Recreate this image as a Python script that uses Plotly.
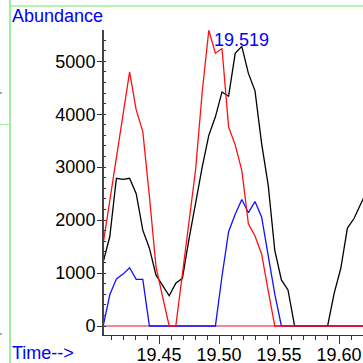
import plotly.graph_objects as go

# ---- data ----
times = [19.4035, 19.4090, 19.4145, 19.4200, 19.4255, 19.4310, 19.4365, 19.4420,
         19.4475, 19.4530, 19.4585, 19.4640, 19.4695, 19.4750, 19.4805, 19.4860,
         19.4915, 19.4970, 19.5025, 19.5080, 19.5135, 19.5190, 19.5245, 19.5300,
         19.5355, 19.5410, 19.5465, 19.5520, 19.5575, 19.5630, 19.5685, 19.5740,
         19.5795, 19.5850, 19.5905, 19.5960, 19.6015, 19.6070, 19.6125, 19.6180,
         19.6235]

black_vals = [1210, 1690, 2790, 2770, 2790, 2500, 1810, 1470, 960, 770, 570, 810,
              900, 1640, 2320, 3000, 3600, 3950, 4420, 4340, 5150, 5280, 4770, 4440,
              3450, 2660, 1430, 870, 680, 0, 0, 0, 0, 0, 0, 620, 1090, 1850, 2030,
              2300, 2560]

red_vals = [1560, 2380, 3190, 4000, 4800, 4080, 3670, 2450, 1120, 550, 0, 0,
            1000, 2030, 2950, 4420, 5585, 5150, 5240, 3760, 3420, 2940, 1930, 1700,
            1360, 670, 0, 0, 0, 0, 0, 0, 0, 0, 0, 0, 0, 0, 0, 0, 0]

blue_vals = [0, 590, 890, 980, 1100, 880, 880, 0, 0, 0, 0, 0, 0, 0, 0, 0, 0, 0,
             940, 1780, 2110, 2390, 2140, 2350, 2060, 1340, 600, 0, 0, 0, 0, 0, 0,
             0, 0, 0, 0, 0, 0, 0, 0]

other_vals = [0, 0, 0, 0, 0, 0, 0, 0, 0, 0, 0, 0, 0, 0, 0, 0, 0, 0, 0, 0, 0,
              0, 0, 0, 0, 0, 0, 0, 0, 0, 0, 0, 0, 0, 0, 0, 0, 0, 0, 0, 0]

peak_time = 19.519
peak_abund = 5280
peak_label = "19.519"

x_ticks = [19.45, 19.50, 19.55, 19.60]
x_tick_text = ["19.45", "19.50", "19.55", "19.60"]
y_ticks = [0, 1000, 2000, 3000, 4000, 5000]
y_tick_text = ["0", "1000", "2000", "3000", "4000", "5000"]

FONT = "Arial"
W, H = 363, 363
ML, MR, MT, MB = 104, 0, 30, 28
PW, PH = W - ML - MR, H - MT - MB


def px2paper_x(px):
    return (px - ML) / PW


def px2paper_y(py):
    return (H - MB - py) / PH


fig = go.Figure()
fig.add_trace(go.Scatter(x=times, y=other_vals, mode="lines",
                         line=dict(color="#ee5f7c", width=1.4), hoverinfo="skip"))
fig.add_trace(go.Scatter(x=times, y=black_vals, mode="lines",
                         line=dict(color="black", width=1.3)))
fig.add_trace(go.Scatter(x=times, y=blue_vals, mode="lines",
                         line=dict(color="#1010ff", width=1.3)))
fig.add_trace(go.Scatter(x=times, y=red_vals, mode="lines",
                         line=dict(color="#ff1010", width=1.3)))

fig.add_annotation(x=peak_time, y=peak_abund, xref="x", yref="y", text=peak_label,
                   showarrow=False, xanchor="center", yanchor="bottom", yshift=-6,
                   font=dict(family=FONT, size=18, color="#0000ff"))

fig.add_annotation(x=px2paper_x(10), y=px2paper_y(23), xref="paper", yref="paper",
                   text="Abundance", showarrow=False, xanchor="left", yanchor="bottom",
                   yshift=-5, font=dict(family=FONT, size=18, color="#0000ff"))
fig.add_annotation(x=px2paper_x(10), y=px2paper_y(360), xref="paper", yref="paper",
                   text="Time-->", showarrow=False, xanchor="left", yanchor="bottom",
                   yshift=-5, font=dict(family=FONT, size=18, color="#0000ff"))

green = "#9cef9c"
fig.add_shape(type="line", xref="paper", yref="paper",
              x0=px2paper_x(10), x1=px2paper_x(10), y0=px2paper_y(0), y1=px2paper_y(363),
              line=dict(color=green, width=2))
fig.add_shape(type="line", xref="paper", yref="paper",
              x0=px2paper_x(10), x1=px2paper_x(363), y0=px2paper_y(6), y1=px2paper_y(6),
              line=dict(color=green, width=1.5))
fig.add_shape(type="line", xref="paper", yref="paper",
              x0=px2paper_x(0), x1=px2paper_x(10), y0=px2paper_y(124.5), y1=px2paper_y(124.5),
              line=dict(color=green, width=1))
for py in (93, 334):
    fig.add_shape(type="line", xref="paper", yref="paper",
                  x0=px2paper_x(0), x1=px2paper_x(2), y0=px2paper_y(py), y1=px2paper_y(py),
                  line=dict(color="#555555", width=1))

fig.update_layout(
    width=W, height=H, margin=dict(l=ML, r=MR, t=MT, b=MB, pad=0, autoexpand=False),
    paper_bgcolor="white", plot_bgcolor="white", showlegend=False,
    font=dict(family=FONT, size=18, color="black"),
    xaxis=dict(range=[19.404167, 19.62], showgrid=False, zeroline=False, automargin=False,
               showline=True, linecolor="#333333", linewidth=1.3,
               ticks="outside", ticklen=8, tickwidth=1.3, tickcolor="#333333",
               tickvals=x_ticks, ticktext=x_tick_text, ticklabelstandoff=-5,
               tickfont=dict(family=FONT, size=18, color="black"),
               minor=dict(dtick=0.01, tick0=19.45, ticks="outside", ticklen=4,
                          tickwidth=1, tickcolor="#333333")),
    yaxis=dict(range=[-170, 5590], showgrid=False, zeroline=False, automargin=False,
               showline=True, linecolor="#444444", linewidth=2,
               ticks="outside", ticklen=5, tickwidth=1.3, tickcolor="#333333",
               tickvals=y_ticks, ticktext=y_tick_text,
               tickfont=dict(family=FONT, size=18, color="black"),
               ticklabelstandoff=-2,
               minor=dict(dtick=200, tick0=0, ticks="inside", ticklen=2,
                          tickwidth=1, tickcolor="#333333")),
)

fig.write_html("out.html", config={"displayModeBar": False},
               post_script="document.body.style.margin='0';document.body.style.padding='0';")
